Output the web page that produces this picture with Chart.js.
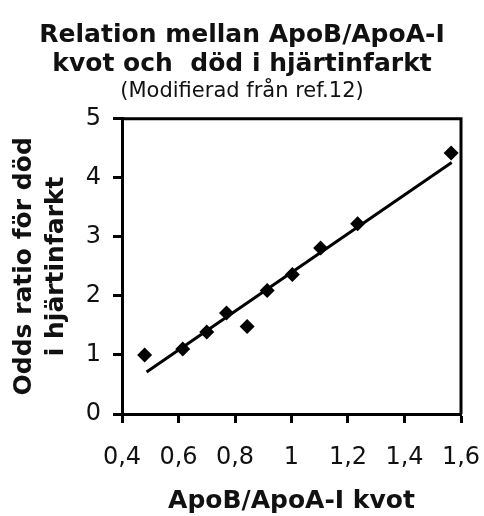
<!DOCTYPE html>
<html>
<head>
<meta charset="utf-8">
<script src="https://cdn.jsdelivr.net/npm/chart.js@4/dist/chart.umd.min.js"></script>
<style>
  html, body { margin: 0; padding: 0; background: #fff; }
  #wrap { width: 484px; height: 516px; }
</style>
</head>
<body>
<div id="wrap"><canvas id="chart" width="484" height="516"></canvas></div>
<script>
// ApoB/ApoA-I ratio vs odds ratio
const ratioX = [0.48, 0.615, 0.70, 0.77, 0.843, 0.914, 1.003, 1.103, 1.234, 1.565];
const oddsY  = [1.00, 1.10, 1.39, 1.71, 1.48, 2.09, 2.36, 2.81, 3.22, 4.42];

// trend line end points
const trendX = [0.487, 1.567];
const trendY = [0.71, 4.26];

const xTicks = [0.4, 0.6, 0.8, 1.0, 1.2, 1.4, 1.6];
const xTickLabels = ['0,4', '0,6', '0,8', '1', '1,2', '1,4', '1,6'];
const yTicks = [0, 1, 2, 3, 4, 5];

const FONT = 'DejaVu Sans, Verdana, sans-serif';

const framePlugin = {
    id: 'frame',
    afterDraw(chart) {
        const a = chart.chartArea;
        const ctx = chart.ctx;
        ctx.save();
        ctx.strokeStyle = '#000';
        ctx.lineWidth = 3;
        ctx.beginPath();
        ctx.moveTo(a.left, a.top);
        ctx.lineTo(a.right, a.top);
        ctx.lineTo(a.right, a.bottom);
        ctx.stroke();
        ctx.restore();
    }
};

const ctx = document.getElementById('chart').getContext('2d');
new Chart(ctx, {
    type: 'scatter',
    data: {
        datasets: [
            {
                label: 'points',
                data: ratioX.map((x, i) => ({ x, y: oddsY[i] })),
                pointStyle: 'rectRot',
                pointRadius: 7.5,
                backgroundColor: '#000',
                borderColor: '#000',
                borderWidth: 0
            },
            {
                label: 'trend',
                data: trendX.map((x, i) => ({ x, y: trendY[i] })),
                showLine: true,
                pointRadius: 0,
                borderColor: '#000',
                borderWidth: 3
            }
        ]
    },
    options: {
        responsive: false,
        animation: false,
        layout: { padding: { left: 0, right: 0, top: 0, bottom: 0 } },
        plugins: {
            legend: { display: false },
            tooltip: { enabled: false },
            title: {
                display: true,
                text: ['Relation mellan ApoB/ApoA-I', 'kvot och  död i hjärtinfarkt'],
                color: '#111',
                font: { family: FONT, size: 25, weight: 'bold', lineHeight: 1.15 },
                padding: { top: 21, bottom: 0 }
            },
            subtitle: {
                display: true,
                text: '(Modifierad från ref.12)',
                color: '#111',
                font: { family: FONT, size: 21, weight: 'normal', lineHeight: 1.2 },
                padding: { top: 0, bottom: 15 }
            }
        },
        scales: {
            x: {
                type: 'linear',
                min: 0.4,
                max: 1.6,
                afterBuildTicks: (scale) => { scale.ticks = xTicks.map(v => ({ value: v })); },
                afterFit: (scale) => {
                    scale.height = 102;
                    scale.paddingLeft = 0;
                    scale.paddingRight = 23;
                },
                ticks: {
                    color: '#111',
                    font: { family: FONT, size: 24 },
                    padding: 20,
                    maxRotation: 0,
                    callback: (v) => xTickLabels[xTicks.findIndex(t => Math.abs(t - v) < 1e-6)]
                },
                grid: { drawOnChartArea: false, tickLength: 9, tickColor: '#000', tickWidth: 3 },
                border: { color: '#000', width: 3 },
                title: {
                    display: true,
                    text: 'ApoB/ApoA-I kvot',
                    color: '#111',
                    font: { family: FONT, size: 25, weight: 'bold' },
                    padding: { top: 0, bottom: 0 }
                }
            },
            y: {
                min: 0,
                max: 5,
                afterBuildTicks: (scale) => { scale.ticks = yTicks.map(v => ({ value: v })); },
                afterFit: (scale) => { scale.width = 122; },
                ticks: {
                    color: '#111',
                    font: { family: FONT, size: 24 },
                    padding: 12
                },
                grid: { drawOnChartArea: false, tickLength: 9, tickColor: '#000', tickWidth: 3 },
                border: { color: '#000', width: 3 },
                title: {
                    display: true,
                    text: ['Odds ratio för död', 'i hjärtinfarkt'],
                    color: '#111',
                    font: { family: FONT, size: 25, weight: 'bold', lineHeight: 1.3 },
                    padding: { top: 8, bottom: 2 }
                }
            }
        }
    },
    plugins: [framePlugin]
});
</script>
</body>
</html>
